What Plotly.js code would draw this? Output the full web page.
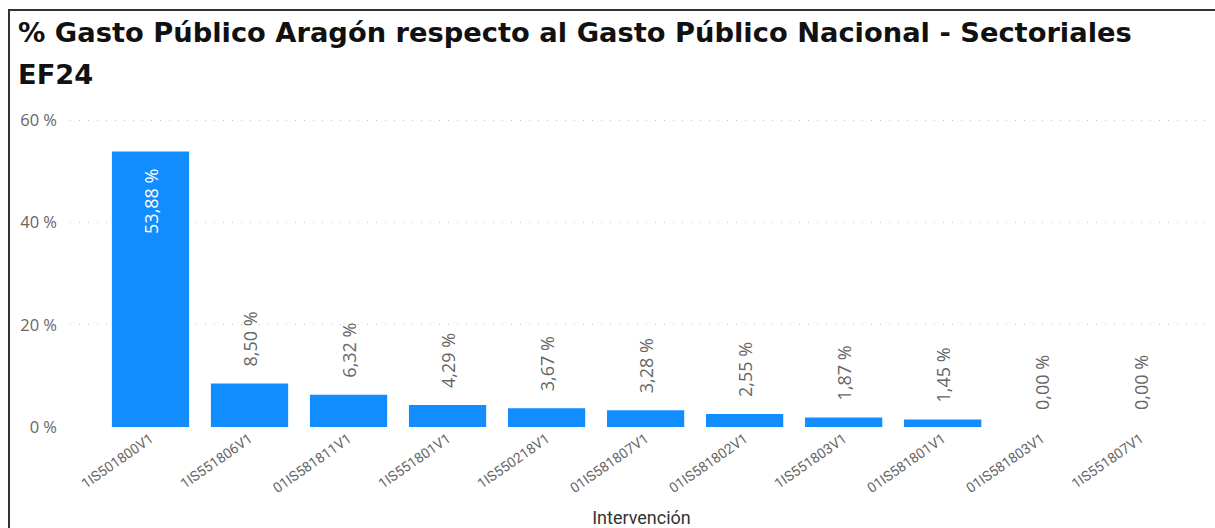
<!DOCTYPE html>
<html>
<head>
<meta charset="utf-8">
<script src="https://cdn.plot.ly/plotly-3.0.1.min.js"></script>
<style>
  html, body { margin: 0; padding: 0; background: #fff; }
  #wrap { position: relative; width: 1215px; height: 528px; overflow: hidden; }
  #chart { position: absolute; left: 0; top: 0; width: 1215px; height: 528px; }
  #frameTop { position: absolute; left: 8px; top: 9px; width: 1207px; height: 2px; background: #333; }
  #frameLeft { position: absolute; left: 8px; top: 9px; width: 2px; height: 519px; background: #333; }
</style>
</head>
<body>
<div id="wrap">
  <div id="chart"></div>
  <div id="frameTop"></div>
  <div id="frameLeft"></div>
</div>
<script>
const categories = ["1IS501800V1", "1IS551806V1", "01IS581811V1", "1IS551801V1", "1IS550218V1",
  "01IS581807V1", "01IS581802V1", "1IS551803V1", "01IS581801V1", "01IS581803V1", "1IS551807V1"];
const values = [53.88, 8.50, 6.32, 4.29, 3.67, 3.28, 2.55, 1.87, 1.45, 0.00, 0.00];
const titleLine1 = "% Gasto Público Aragón respecto al Gasto Público Nacional - Sectoriales";
const titleLine2 = "EF24";
const xTitle = "Intervención";
const yTicks = [0, 20, 40, 60];

const pad = '\u00a0\u00a0\u00a0';
const labels = values.map((v, i) => {
  const s = v.toFixed(2).replace('.', ',') + ' %';
  return i === 0 ? s + pad : pad + s;
});
const positions = values.map((v, i) => i === 0 ? 'inside' : 'outside');
const textColors = values.map((v, i) => i === 0 ? '#ffffff' : '#666666');

const W = 1215, H = 528;
const L = 70, R = 2, T = 110, B = 101;
const pw = W - L - R, ph = H - T - B;
function px2x(px) { return (px - L) / pw; }
function py2y(py) { return (H - B - py) / ph; }

const trace = {
  type: 'bar',
  x: categories,
  y: values,
  width: 0.78,
  marker: { color: '#118DFF' },
  text: labels,
  textposition: positions,
  insidetextanchor: 'end',
  textangle: -90,
  constraintext: 'none',
  textfont: { family: 'Open Sans, sans-serif', size: 18, color: textColors },
  cliponaxis: false,
  hoverinfo: 'x+y'
};

const layout = {
  width: W, height: H,
  margin: { l: L, r: R, t: T, b: B },
  paper_bgcolor: '#ffffff',
  plot_bgcolor: '#ffffff',
  showlegend: false,
  xaxis: {
    type: 'category',
    range: [-0.813, 10.73],
    tickangle: -35,
    tickfont: { family: 'Roboto, sans-serif', size: 14, color: '#666666' },
    showgrid: false,
    zeroline: false,
    showline: false,
    ticks: '',
    automargin: false,
    title: { text: xTitle, font: { family: 'Roboto, sans-serif', size: 18, color: '#333333' }, standoff: 22 }
  },
  yaxis: {
    range: [0, 62],
    tickvals: yTicks,
    ticktext: yTicks.map(v => v + ' %'),
    tickfont: { family: 'Open Sans, sans-serif', size: 16.5, color: '#666666' },
    showgrid: true,
    gridcolor: '#c0c0c0',
    griddash: '1px,8px',
    gridwidth: 1.2,
    zeroline: false,
    showline: false,
    ticks: '',
    ticklabelstandoff: 12,
    automargin: false
  },
  annotations: [
    { text: '<b>' + titleLine1 + '</b>', xref: 'paper', yref: 'paper', x: px2x(16), y: py2y(33),
      xanchor: 'left', yanchor: 'middle', showarrow: false,
      font: { family: 'DejaVu Sans, sans-serif', size: 27.3, color: '#111111' } },
    { text: '<b>' + titleLine2 + '</b>', xref: 'paper', yref: 'paper', x: px2x(16), y: py2y(74),
      xanchor: 'left', yanchor: 'middle', showarrow: false,
      font: { family: 'DejaVu Sans, sans-serif', size: 27.3, color: '#111111' } }
  ]
};

Plotly.newPlot('chart', [trace], layout, { displayModeBar: false, staticPlot: true });
</script>
</body>
</html>
